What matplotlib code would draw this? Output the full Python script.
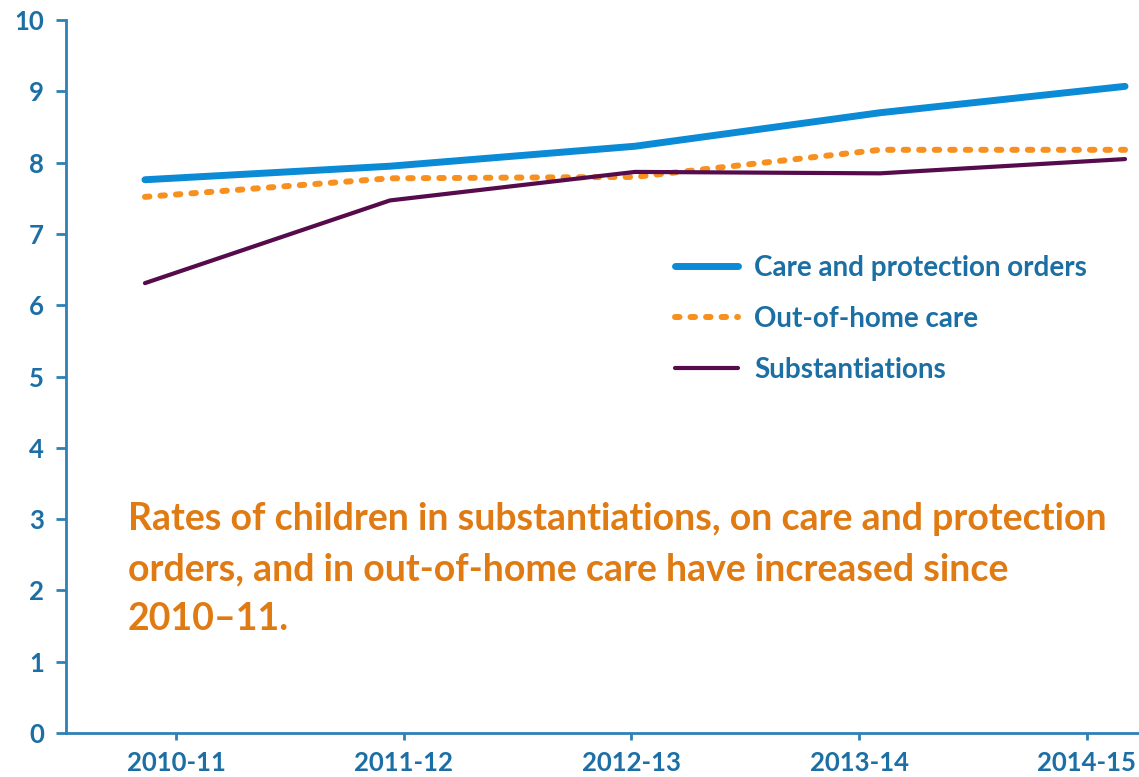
import numpy as np
import matplotlib
matplotlib.use('Agg')
import matplotlib.pyplot as plt

plt.rcParams['font.family'] = ['Lato', 'DejaVu Sans']

# Rates per 1,000 children
years = ['2010-11', '2011-12', '2012-13', '2013-14', '2014-15']
care_protection = [7.76, 7.95, 8.23, 8.70, 9.07]
out_of_home = [7.52, 7.78, 7.80, 8.18, 8.18]
substantiations = [6.31, 7.47, 7.87, 7.85, 8.05]

text_blue = '#1b6fa5'
spine_blue = '#2e80b6'
c_care = '#0b8ad6'
c_ooh = '#f7901e'
c_sub = '#560b4c'
c_note = '#e07a12'

fig = plt.figure(figsize=(11.39, 7.77), dpi=100)
ax = fig.add_axes([0.058, 0.0566, 0.942, 0.9176])

# category axis with the year labels
x = np.arange(len(years))
ax.set_xlim(-0.483, 4.229)
ax.set_ylim(0, 10)
ax.set_xticks(x)
ax.set_xticklabels(years)
ax.set_yticks(range(0, 11))
for s in ['top', 'right']:
    ax.spines[s].set_visible(False)
for s in ['left', 'bottom']:
    ax.spines[s].set_color(spine_blue)
    ax.spines[s].set_linewidth(2)
ax.tick_params(axis='y', length=7, width=2, color=spine_blue, pad=9,
               labelsize=18.5, labelcolor=text_blue)
ax.tick_params(axis='x', length=5, width=2, color=spine_blue, pad=8,
               labelsize=18.5, labelcolor=text_blue)
for lab in ax.get_xticklabels() + ax.get_yticklabels():
    lab.set_fontweight('bold')

# series run on a slightly wider spacing than the year ticks
axd = ax.twiny()
axd.set_xlim(-0.322, 4.057)
axd.set_axis_off()
l1, = axd.plot(x, care_protection, color=c_care, lw=5, solid_capstyle='round',
               label='Care and protection orders')
l2, = axd.plot(x, out_of_home, color=c_ooh, lw=4.3, dash_capstyle='round',
               linestyle=(0, (0.75, 1.85)), label='Out-of-home care')
l3, = axd.plot(x, substantiations, color=c_sub, lw=3, solid_capstyle='round',
               label='Substantiations')

leg = axd.legend(handles=[l1, l2, l3], loc='upper left',
                 bbox_to_anchor=(675 / 1139, 1 - 255 / 777),
                 bbox_transform=fig.transFigure, frameon=False,
                 borderpad=0, borderaxespad=0, handlelength=2.25,
                 handletextpad=0.6, labelspacing=0.9,
                 prop={'size': 20, 'weight': 'bold'})
for t in leg.get_texts():
    t.set_color(text_blue)

ax.text(128 / 1139, 1 - 502 / 777,
        'Rates of children in substantiations, on care and protection\n'
        'orders, and in out-of-home care have increased since\n'
        '2010\u201311.',
        transform=fig.transFigure, ha='left', va='top', fontsize=27,
        fontweight='bold', color=c_note, linespacing=1.58)

fig.savefig('out.png', dpi=100)
